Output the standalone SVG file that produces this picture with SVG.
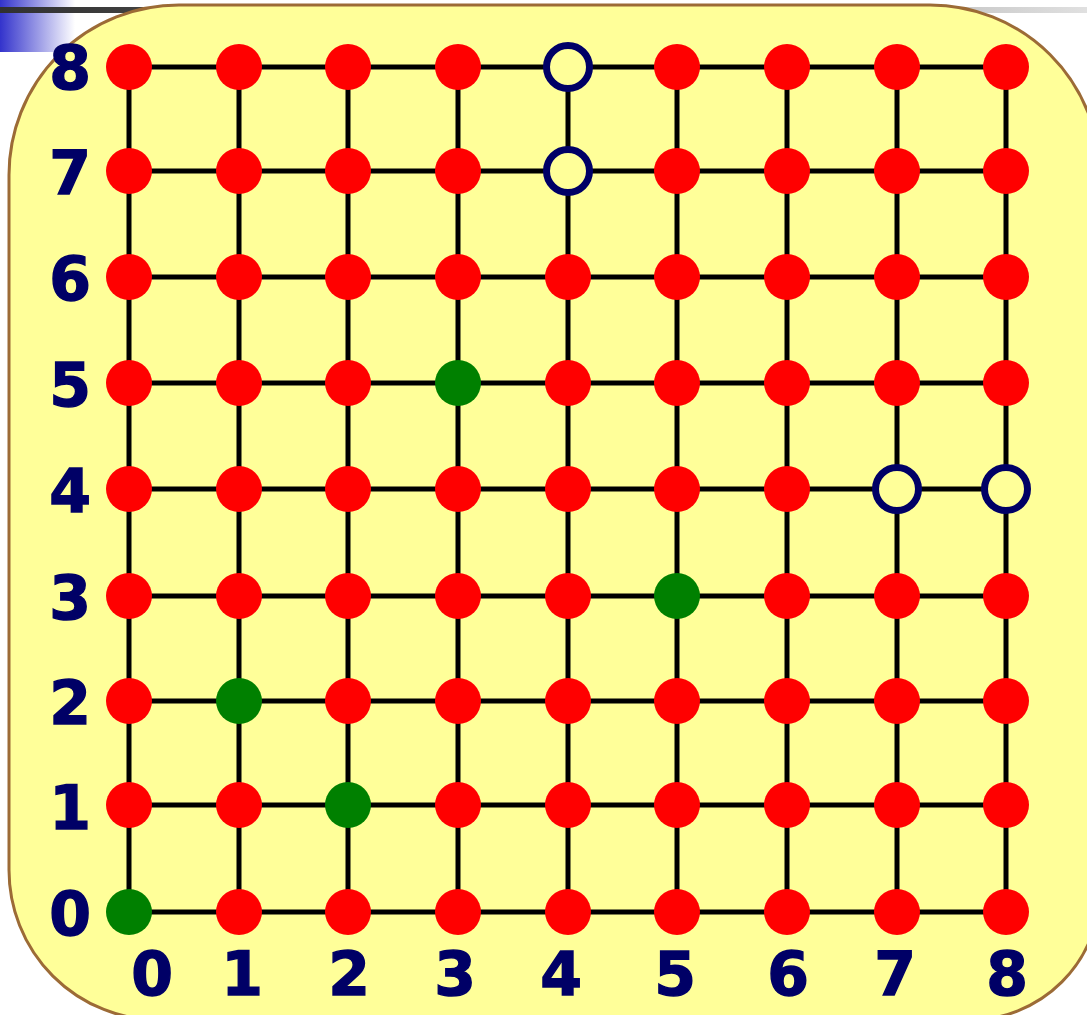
<svg xmlns="http://www.w3.org/2000/svg" width="1087" height="1015" viewBox="0 0 1087 1015">
<defs>
<linearGradient id="blueFade" x1="0" y1="0" x2="1" y2="0">
<stop offset="0" stop-color="#3333cc"/>
<stop offset="1" stop-color="#ffffff"/>
</linearGradient>
<linearGradient id="barFade" x1="0" y1="0" x2="1" y2="0">
<stop offset="0" stop-color="#303030"/>
<stop offset="0.25" stop-color="#505050"/>
<stop offset="1" stop-color="#e0e0e0"/>
</linearGradient>
</defs>
<style>
.ln{stroke:#000;stroke-width:5;fill:none}
.r{fill:#ff0000}
.g{fill:#008000}
.o{fill:#ffff99;stroke:#000066;stroke-width:7}
.lb{font-family:"DejaVu Sans","Verdana",sans-serif;font-weight:bold;font-size:60px;fill:#000066;stroke:#000066;stroke-width:1.4;text-anchor:middle}
</style>
<rect x="0" y="0" width="1087" height="1015" fill="#ffffff"/>
<rect x="0" y="0" width="75" height="52" fill="url(#blueFade)"/>
<rect x="0" y="7" width="1087" height="6" fill="url(#barFade)"/>
<path d="M179 5 H930 A170 170 0 0 1 1100 175 V890 A130 130 0 0 1 970 1020 H159 A150 150 0 0 1 9 870 V175 A170 170 0 0 1 179 5 Z" fill="#ffff99" stroke="#9c6b36" stroke-width="3"/>
<g id="connectors">
<line class="ln" x1="129" y1="67" x2="1006" y2="67"/>
<line class="ln" x1="129" y1="171" x2="1006" y2="171"/>
<line class="ln" x1="129" y1="277" x2="1006" y2="277"/>
<line class="ln" x1="129" y1="383" x2="1006" y2="383"/>
<line class="ln" x1="129" y1="489" x2="1006" y2="489"/>
<line class="ln" x1="129" y1="596" x2="1006" y2="596"/>
<line class="ln" x1="129" y1="701" x2="1006" y2="701"/>
<line class="ln" x1="129" y1="805" x2="1006" y2="805"/>
<line class="ln" x1="129" y1="912" x2="1006" y2="912"/>
<line class="ln" x1="129" y1="67" x2="129" y2="912"/>
<line class="ln" x1="239" y1="67" x2="239" y2="912"/>
<line class="ln" x1="348" y1="67" x2="348" y2="912"/>
<line class="ln" x1="458" y1="67" x2="458" y2="912"/>
<line class="ln" x1="568" y1="67" x2="568" y2="912"/>
<line class="ln" x1="677" y1="67" x2="677" y2="912"/>
<line class="ln" x1="787" y1="67" x2="787" y2="912"/>
<line class="ln" x1="897" y1="67" x2="897" y2="912"/>
<line class="ln" x1="1006" y1="67" x2="1006" y2="912"/>
</g>
<g id="nodes">
<g id="n0_0"><circle class="g" cx="129" cy="912" r="23"/></g>
<g id="n1_0"><circle class="r" cx="239" cy="912" r="23"/></g>
<g id="n2_0"><circle class="r" cx="348" cy="912" r="23"/></g>
<g id="n3_0"><circle class="r" cx="458" cy="912" r="23"/></g>
<g id="n4_0"><circle class="r" cx="568" cy="912" r="23"/></g>
<g id="n5_0"><circle class="r" cx="677" cy="912" r="23"/></g>
<g id="n6_0"><circle class="r" cx="787" cy="912" r="23"/></g>
<g id="n7_0"><circle class="r" cx="897" cy="912" r="23"/></g>
<g id="n8_0"><circle class="r" cx="1006" cy="912" r="23"/></g>
<g id="n0_1"><circle class="r" cx="129" cy="805" r="23"/></g>
<g id="n1_1"><circle class="r" cx="239" cy="805" r="23"/></g>
<g id="n2_1"><circle class="g" cx="348" cy="805" r="23"/></g>
<g id="n3_1"><circle class="r" cx="458" cy="805" r="23"/></g>
<g id="n4_1"><circle class="r" cx="568" cy="805" r="23"/></g>
<g id="n5_1"><circle class="r" cx="677" cy="805" r="23"/></g>
<g id="n6_1"><circle class="r" cx="787" cy="805" r="23"/></g>
<g id="n7_1"><circle class="r" cx="897" cy="805" r="23"/></g>
<g id="n8_1"><circle class="r" cx="1006" cy="805" r="23"/></g>
<g id="n0_2"><circle class="r" cx="129" cy="701" r="23"/></g>
<g id="n1_2"><circle class="g" cx="239" cy="701" r="23"/></g>
<g id="n2_2"><circle class="r" cx="348" cy="701" r="23"/></g>
<g id="n3_2"><circle class="r" cx="458" cy="701" r="23"/></g>
<g id="n4_2"><circle class="r" cx="568" cy="701" r="23"/></g>
<g id="n5_2"><circle class="r" cx="677" cy="701" r="23"/></g>
<g id="n6_2"><circle class="r" cx="787" cy="701" r="23"/></g>
<g id="n7_2"><circle class="r" cx="897" cy="701" r="23"/></g>
<g id="n8_2"><circle class="r" cx="1006" cy="701" r="23"/></g>
<g id="n0_3"><circle class="r" cx="129" cy="596" r="23"/></g>
<g id="n1_3"><circle class="r" cx="239" cy="596" r="23"/></g>
<g id="n2_3"><circle class="r" cx="348" cy="596" r="23"/></g>
<g id="n3_3"><circle class="r" cx="458" cy="596" r="23"/></g>
<g id="n4_3"><circle class="r" cx="568" cy="596" r="23"/></g>
<g id="n5_3"><circle class="g" cx="677" cy="596" r="23"/></g>
<g id="n6_3"><circle class="r" cx="787" cy="596" r="23"/></g>
<g id="n7_3"><circle class="r" cx="897" cy="596" r="23"/></g>
<g id="n8_3"><circle class="r" cx="1006" cy="596" r="23"/></g>
<g id="n0_4"><circle class="r" cx="129" cy="489" r="23"/></g>
<g id="n1_4"><circle class="r" cx="239" cy="489" r="23"/></g>
<g id="n2_4"><circle class="r" cx="348" cy="489" r="23"/></g>
<g id="n3_4"><circle class="r" cx="458" cy="489" r="23"/></g>
<g id="n4_4"><circle class="r" cx="568" cy="489" r="23"/></g>
<g id="n5_4"><circle class="r" cx="677" cy="489" r="23"/></g>
<g id="n6_4"><circle class="r" cx="787" cy="489" r="23"/></g>
<g id="n7_4"><circle class="o" cx="897" cy="489" r="21.5"/></g>
<g id="n8_4"><circle class="o" cx="1006" cy="489" r="21.5"/></g>
<g id="n0_5"><circle class="r" cx="129" cy="383" r="23"/></g>
<g id="n1_5"><circle class="r" cx="239" cy="383" r="23"/></g>
<g id="n2_5"><circle class="r" cx="348" cy="383" r="23"/></g>
<g id="n3_5"><circle class="g" cx="458" cy="383" r="23"/></g>
<g id="n4_5"><circle class="r" cx="568" cy="383" r="23"/></g>
<g id="n5_5"><circle class="r" cx="677" cy="383" r="23"/></g>
<g id="n6_5"><circle class="r" cx="787" cy="383" r="23"/></g>
<g id="n7_5"><circle class="r" cx="897" cy="383" r="23"/></g>
<g id="n8_5"><circle class="r" cx="1006" cy="383" r="23"/></g>
<g id="n0_6"><circle class="r" cx="129" cy="277" r="23"/></g>
<g id="n1_6"><circle class="r" cx="239" cy="277" r="23"/></g>
<g id="n2_6"><circle class="r" cx="348" cy="277" r="23"/></g>
<g id="n3_6"><circle class="r" cx="458" cy="277" r="23"/></g>
<g id="n4_6"><circle class="r" cx="568" cy="277" r="23"/></g>
<g id="n5_6"><circle class="r" cx="677" cy="277" r="23"/></g>
<g id="n6_6"><circle class="r" cx="787" cy="277" r="23"/></g>
<g id="n7_6"><circle class="r" cx="897" cy="277" r="23"/></g>
<g id="n8_6"><circle class="r" cx="1006" cy="277" r="23"/></g>
<g id="n0_7"><circle class="r" cx="129" cy="171" r="23"/></g>
<g id="n1_7"><circle class="r" cx="239" cy="171" r="23"/></g>
<g id="n2_7"><circle class="r" cx="348" cy="171" r="23"/></g>
<g id="n3_7"><circle class="r" cx="458" cy="171" r="23"/></g>
<g id="n4_7"><circle class="o" cx="568" cy="171" r="21.5"/></g>
<g id="n5_7"><circle class="r" cx="677" cy="171" r="23"/></g>
<g id="n6_7"><circle class="r" cx="787" cy="171" r="23"/></g>
<g id="n7_7"><circle class="r" cx="897" cy="171" r="23"/></g>
<g id="n8_7"><circle class="r" cx="1006" cy="171" r="23"/></g>
<g id="n0_8"><circle class="r" cx="129" cy="67" r="23"/></g>
<g id="n1_8"><circle class="r" cx="239" cy="67" r="23"/></g>
<g id="n2_8"><circle class="r" cx="348" cy="67" r="23"/></g>
<g id="n3_8"><circle class="r" cx="458" cy="67" r="23"/></g>
<g id="n4_8"><circle class="o" cx="568" cy="67" r="21.5"/></g>
<g id="n5_8"><circle class="r" cx="677" cy="67" r="23"/></g>
<g id="n6_8"><circle class="r" cx="787" cy="67" r="23"/></g>
<g id="n7_8"><circle class="r" cx="897" cy="67" r="23"/></g>
<g id="n8_8"><circle class="r" cx="1006" cy="67" r="23"/></g>
</g>
<g id="row-labels">
<text class="lb" x="70" y="89">8</text>
<text class="lb" x="70" y="194">7</text>
<text class="lb" x="70" y="300">6</text>
<text class="lb" x="70" y="406">5</text>
<text class="lb" x="70" y="512">4</text>
<text class="lb" x="70" y="619">3</text>
<text class="lb" x="70" y="724">2</text>
<text class="lb" x="70" y="829">1</text>
<text class="lb" x="70" y="935">0</text>
</g>
<g id="col-labels">
<text class="lb" x="152" y="995">0</text>
<text class="lb" x="242" y="995">1</text>
<text class="lb" x="349" y="995">2</text>
<text class="lb" x="455" y="995">3</text>
<text class="lb" x="561" y="995">4</text>
<text class="lb" x="675" y="995">5</text>
<text class="lb" x="788" y="995">6</text>
<text class="lb" x="895" y="995">7</text>
<text class="lb" x="1007" y="995">8</text>
</g>
</svg>
